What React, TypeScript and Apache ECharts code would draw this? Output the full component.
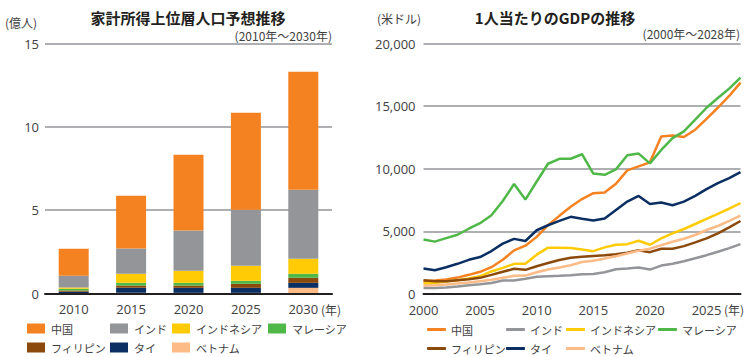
import React, { useEffect, useRef } from "react";
import * as echarts from "echarts";

// ---- Left chart: 家計所得上位層人口予想推移 (億人) ----
const barYears = ["2010", "2015", "2020", "2025", "2030"];
const barChina = [1.62, 3.16, 4.54, 5.82, 7.08];
const barIndia = [0.7, 1.52, 2.42, 3.36, 4.14];
const barIndonesia = [0.08, 0.54, 0.72, 0.9, 0.9];
const barMalaysia = [0.1, 0.16, 0.16, 0.18, 0.24];
const barPhilippines = [0.08, 0.14, 0.14, 0.24, 0.3];
const barThailand = [0.08, 0.3, 0.3, 0.3, 0.3];
const barVietnam = [0.02, 0.04, 0.04, 0.04, 0.34];
const barTicks = [0, 5, 10, 15];

// ---- Right chart: 1人当たりのGDPの推移 (米ドル) ----
const gdpYears = [
  "2000", "2001", "2002", "2003", "2004", "2005", "2006", "2007", "2008", "2009",
  "2010", "2011", "2012", "2013", "2014", "2015", "2016", "2017", "2018", "2019",
  "2020", "2021", "2022", "2023", "2024", "2025", "2026", "2027", "2028",
];
const gdpChina = [1020, 1070, 1150, 1310, 1530, 1770, 2140, 2730, 3480, 3860, 4560, 5490, 6240, 6970, 7580, 8050, 8100, 8800, 9870, 10190, 10510, 12580, 12660, 12530, 13120, 13980, 14870, 15810, 16880];
const gdpIndia = [480, 480, 510, 590, 700, 780, 880, 1070, 1070, 1210, 1370, 1420, 1450, 1500, 1580, 1600, 1740, 1980, 2030, 2110, 1950, 2270, 2410, 2620, 2860, 3100, 3370, 3660, 3980];
const gdpIndonesia = [830, 880, 990, 1100, 1230, 1420, 1800, 2090, 2410, 2410, 3140, 3700, 3700, 3670, 3560, 3420, 3720, 3930, 3980, 4250, 3930, 4440, 4840, 5190, 5590, 5990, 6390, 6820, 7250];
const gdpMalaysia = [4350, 4180, 4460, 4730, 5210, 5650, 6280, 7420, 8780, 7540, 8980, 10400, 10790, 10800, 11160, 9620, 9520, 9950, 11080, 11210, 10430, 11500, 12450, 12980, 13920, 14870, 15650, 16400, 17280];
const gdpPhilippines = [1100, 1020, 1020, 1100, 1180, 1290, 1530, 1770, 2010, 1930, 2220, 2470, 2710, 2890, 2980, 3040, 3100, 3180, 3290, 3500, 3340, 3610, 3610, 3820, 4120, 4440, 4840, 5320, 5830];
const gdpThailand = [2040, 1900, 2140, 2410, 2730, 2950, 3430, 4020, 4400, 4230, 5090, 5490, 5840, 6160, 6000, 5860, 6020, 6710, 7380, 7830, 7190, 7300, 7090, 7380, 7830, 8370, 8850, 9250, 9730];
const gdpVietnam = [670, 700, 750, 830, 910, 1020, 1130, 1290, 1450, 1470, 1740, 1960, 2120, 2300, 2550, 2650, 2830, 3020, 3240, 3450, 3610, 3900, 4170, 4410, 4710, 5110, 5430, 5830, 6260];

const countries = ["中国", "インド", "インドネシア", "マレーシア", "フィリピン", "タイ", "ベトナム"];
const colors = ["#f58220", "#939598", "#ffcb05", "#50b848", "#8b4a0c", "#0b2f63", "#fcbb87"];

const barData = [barChina, barIndia, barIndonesia, barMalaysia, barPhilippines, barThailand, barVietnam];
const gdpData = [gdpChina, gdpIndia, gdpIndonesia, gdpMalaysia, gdpPhilippines, gdpThailand, gdpVietnam];

const FONT = "'Open Sans', 'Noto Sans CJK JP', sans-serif";
const JP = "'Noto Sans CJK JP', sans-serif";
const LABEL = "#414042";
const GRID = "#939598";

export default function App() {
  const ref = useRef<HTMLDivElement>(null);
  useEffect(() => {
    document.body.style.margin = "0";
    if (!ref.current) return;
    const chart = echarts.init(ref.current, null, { renderer: "svg" });

    // stacking bottom-to-top: ベトナム, タイ, フィリピン, マレーシア, インドネシア, インド, 中国
    const stackOrder = [6, 5, 4, 3, 2, 1, 0];
    const barSeries = stackOrder.map((i) => ({
      name: countries[i],
      type: "bar",
      stack: "total",
      xAxisIndex: 0,
      yAxisIndex: 0,
      barWidth: 30,
      itemStyle: { color: colors[i] },
      data: barData[i],
    }));
    const lineSeries = countries.map((c, i) => ({
      name: c,
      type: "line",
      xAxisIndex: 1,
      yAxisIndex: 1,
      symbol: "none",
      lineStyle: { width: 2.5, color: colors[i] },
      itemStyle: { color: colors[i] },
      data: gdpData[i],
    }));

    const leftCols = [27, 110, 172, 268, 27, 110, 172];
    const leftRows = [323, 323, 323, 323, 342, 342, 342];
    const rightCols = [427, 506, 566, 658, 427, 506, 566];
    const legends: any[] = [];
    countries.forEach((c, i) => {
      legends.push({
        data: [c],
        left: leftCols[i],
        top: leftRows[i],
        padding: 0,
        icon: "rect",
        itemWidth: 18,
        itemHeight: 10,
        itemGap: 0,
        selectedMode: false,
        textStyle: { fontFamily: JP, fontSize: 11, color: LABEL, padding: [0, 0, 0, 1] },
      });
      legends.push({
        data: [c],
        left: rightCols[i],
        top: leftRows[i] + 1,
        padding: 0,
        icon: "roundRect",
        itemWidth: 19,
        itemHeight: 3,
        itemGap: 0,
        selectedMode: false,
        textStyle: { fontFamily: JP, fontSize: 11, color: LABEL },
      });
    });

    chart.setOption({
      animation: false,
      textStyle: { fontFamily: FONT },
      grid: [
        { left: 45, top: 43.5, width: 287, height: 250 },
        { left: 423.5, top: 43.5, width: 317, height: 250.5 },
      ],
      legend: legends,
      xAxis: [
        {
          type: "category",
          gridIndex: 0,
          data: barYears,
          axisTick: { show: false },
          axisLine: { lineStyle: { color: "#231f20", width: 2 } },
          axisLabel: { fontFamily: FONT, fontSize: 13, lineHeight: 13, color: LABEL, margin: 9 },
          z: 5,
        },
        {
          type: "category",
          gridIndex: 1,
          data: gdpYears,
          boundaryGap: false,
          axisTick: { show: false },
          axisLine: { lineStyle: { color: "#231f20", width: 2 } },
          axisLabel: { fontFamily: FONT, fontSize: 13, lineHeight: 13, color: LABEL, margin: 9, interval: 4 },
          z: 5,
        },
      ],
      yAxis: [
        {
          type: "value",
          gridIndex: 0,
          min: barTicks[0],
          max: barTicks[barTicks.length - 1],
          interval: 5,
          axisLine: { show: false },
          axisTick: { show: false },
          splitLine: { lineStyle: { color: GRID, width: 1.5 } },
          axisLabel: { fontFamily: FONT, fontSize: 13, lineHeight: 13, color: LABEL, margin: 6 },
        },
        {
          type: "value",
          gridIndex: 1,
          min: 0,
          max: 20000,
          interval: 5000,
          axisLine: { show: false },
          axisTick: { show: false },
          splitLine: { lineStyle: { color: GRID, width: 1.5 } },
          axisLabel: {
            fontFamily: FONT,
            fontSize: 13,
            lineHeight: 13,
            color: LABEL,
            margin: 8,
            formatter: (v: number) => v.toLocaleString("en-US"),
          },
        },
      ],
      graphic: [
        { type: "text", x: 188, y: 17, style: { text: "家計所得上位層人口予想推移", fontFamily: JP, fontSize: 15, fontWeight: "bold", fill: "#231f20", align: "center", verticalAlign: "middle" } },
        { type: "text", x: 332, y: 35, style: { text: "(2010年～2030年)", fontFamily: JP, fontSize: 12, fill: LABEL, align: "right", verticalAlign: "middle" } },
        { type: "text", x: 5, y: 22, style: { text: "(億人)", fontFamily: JP, fontSize: 12, fill: LABEL, align: "left", verticalAlign: "middle" } },
        { type: "text", x: 321, y: 309, style: { text: "(年)", fontFamily: JP, fontSize: 12, fill: LABEL, align: "left", verticalAlign: "middle" } },
        { type: "text", x: 555, y: 17, style: { text: "1人当たりのGDPの推移", fontFamily: JP, fontSize: 15, fontWeight: "bold", fill: "#231f20", align: "center", verticalAlign: "middle" } },
        { type: "text", x: 740, y: 33, style: { text: "(2000年～2028年)", fontFamily: JP, fontSize: 12, fill: LABEL, align: "right", verticalAlign: "middle" } },
        { type: "text", x: 377, y: 18, style: { text: "(米ドル)", fontFamily: JP, fontSize: 12, fill: LABEL, align: "left", verticalAlign: "middle" } },
        { type: "text", x: 724, y: 309, style: { text: "(年)", fontFamily: JP, fontSize: 12, fill: LABEL, align: "left", verticalAlign: "middle" } },
      ],
      series: [...barSeries, ...lineSeries],
    });
    return () => chart.dispose();
  }, []);
  return <div ref={ref} style={{ width: 749, height: 357 }} />;
}
